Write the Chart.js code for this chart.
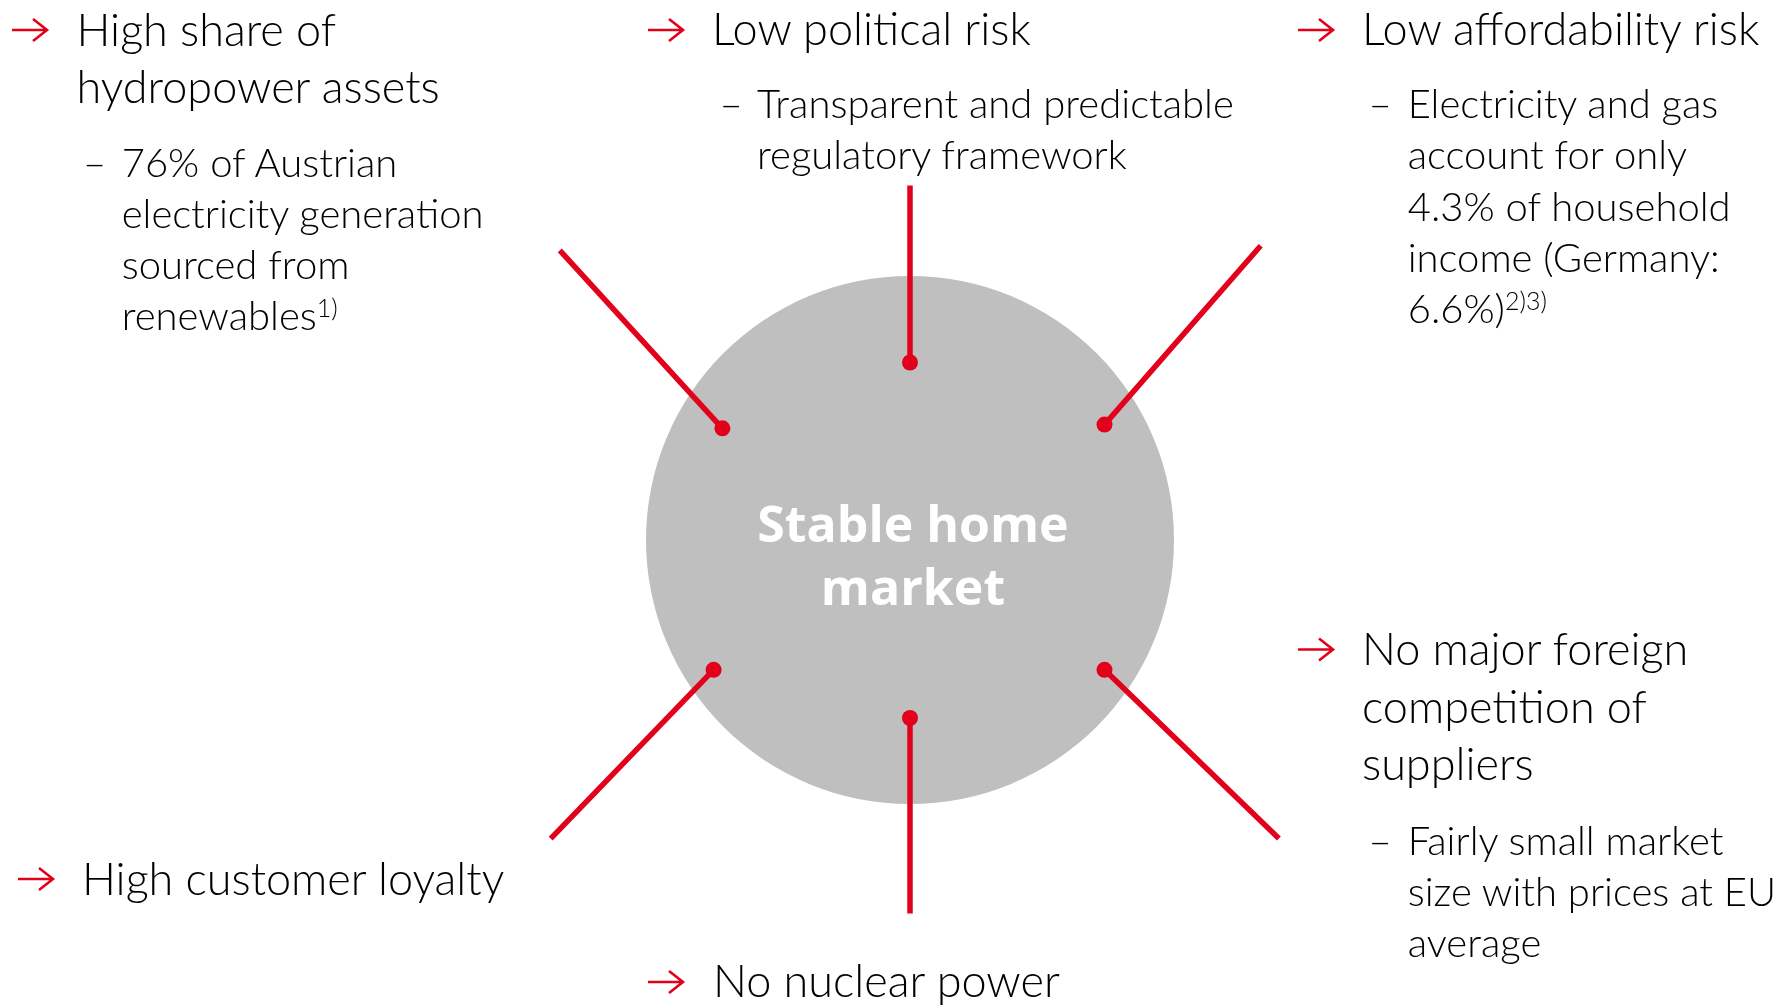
<!DOCTYPE html>
<html>
<head>
<meta charset="utf-8">
<script src="https://cdn.jsdelivr.net/npm/chart.js@4.4.1/dist/chart.umd.min.js"></script>
<style>
  html, body { margin:0; padding:0; background:#ffffff; overflow:hidden; }
  #wrap { position:relative; width:1784px; height:1006px; }
  #chart { position:absolute; left:0; top:0; }
  #labels { position:absolute; left:0; top:0; }
  .head { font-family: Lato, "Open Sans", sans-serif; font-weight:300; font-size:45px; fill:#000; }
  .det  { font-family: Lato, "Open Sans", sans-serif; font-weight:300; font-size:40px; fill:#000; }
  .sup  { font-size:25px; }
  .center { font-family: "Open Sans", Lato, sans-serif; font-weight:700; font-size:50px; fill:#ffffff; }
</style>
</head>
<body>
<div id="wrap">
  <canvas id="chart" width="1784" height="1006"></canvas>
  <svg id="labels" width="1784" height="1006" xmlns="http://www.w3.org/2000/svg"></svg>
</div>
<script>
// ---------- DATA ----------
const hubLabel = ["Stable home", "market"];
const hubX = [910];
const hubY = [540];
const hubRadius = [264];

const factorNames = ["hydropower", "political", "affordability", "competition", "nuclear", "loyalty"];
// spoke end points (diagram units = x 0..1784, y 0..1006 downward)
const spokeInnerX = [722.4, 910, 1104.5, 1104.5, 910, 713.6];
const spokeInnerY = [428.3, 362.5, 424.6, 669.8, 718, 669.8];
const spokeOuterX = [559.8, 910, 1260.7, 1278.9, 910, 550.7];
const spokeOuterY = [250.3, 185.5, 245.8, 838.6, 913.6, 838.6];

const headings = [
  ["High share of", "hydropower assets"],
  ["Low political risk"],
  ["Low affordability risk"],
  ["No major foreign", "competition of", "suppliers"],
  ["No nuclear power"],
  ["High customer loyalty"]
];
const details = [
  ["76% of Austrian", "electricity generation", "sourced from", "renewables"],
  ["Transparent and predictable", "regulatory framework"],
  ["Electricity and gas", "account for only", "4.3% of household", "income (Germany:", "6.6%)"],
  ["Fairly small market", "size with prices at EU", "average"],
  [],
  []
];
const footnotes = ["1)", "", "2)3)", "", "", ""];

// ---------- LAYOUT ----------
const arrowLeft = [12, 648, 1298, 1298, 648, 18];
const arrowCy   = [30, 30, 30, 649.5, 982, 879];
const headLeft  = [76.5, 712, 1362, 1362, 713, 82];
const headBase  = [45.7, 45, 45, 665, 997.3, 895];
const detDash   = [83, 719.5, 1368.5, 1368.5, 0, 0];
const detLeft   = [121.7, 757, 1407.7, 1407.7, 0, 0];
const detBase   = [176.7, 118.3, 118.3, 855, 0, 0];
const headGap = 57.6, detGap = 51.1;
const RED = "#e2001a", GREY = "#bfbfbf";

// ---------- CHART ----------
const spokeSets = factorNames.map((n, i) => ({
  type: "line",
  label: n,
  data: [{x: spokeOuterX[i], y: spokeOuterY[i]}, {x: spokeInnerX[i], y: spokeInnerY[i]}],
  borderColor: RED,
  borderWidth: 5.5,
  borderCapStyle: "butt",
  pointRadius: 0,
  showLine: true,
  fill: false,
  tension: 0,
  clip: false,
  order: 2
}));

new Chart(document.getElementById("chart"), {
  type: "scatter",
  data: {
    datasets: [
      {
        type: "bubble",
        label: "hub",
        data: hubX.map((x, i) => ({x: x, y: hubY[i], r: hubRadius[i]})),
        backgroundColor: GREY,
        borderWidth: 0,
        hoverRadius: 0,
        clip: false,
        order: 3
      },
      ...spokeSets,
      {
        type: "scatter",
        label: "dots",
        data: spokeInnerX.map((x, i) => ({x: x, y: spokeInnerY[i]})),
        backgroundColor: RED,
        borderWidth: 0,
        pointRadius: 8,
        clip: false,
        order: 1
      }
    ]
  },
  options: {
    responsive: false,
    animation: false,
    devicePixelRatio: 1,
    events: [],
    layout: {padding: 0, autoPadding: false},
    plugins: {legend: {display: false}, tooltip: {enabled: false}, title: {display: false}},
    scales: {
      x: {type: "linear", min: 0, max: 1784, display: false},
      y: {type: "linear", min: 0, max: 1006, reverse: true, display: false}
    }
  }
});

// ---------- TEXT (SVG, real text) ----------
const svg = document.getElementById("labels");
const NS = "http://www.w3.org/2000/svg";
function txt(x, y, s, cls, anchor) {
  const t = document.createElementNS(NS, "text");
  t.setAttribute("x", x); t.setAttribute("y", y);
  t.setAttribute("class", cls);
  if (anchor) t.setAttribute("text-anchor", anchor);
  t.textContent = s;
  svg.appendChild(t);
  return t;
}
function arrow(x, cy) {
  const p = document.createElementNS(NS, "path");
  p.setAttribute("d", `M${x} ${cy} H${x+35} M${x+21} ${cy-11} L${x+35} ${cy} L${x+21} ${cy+11}`);
  p.setAttribute("stroke", RED);
  p.setAttribute("stroke-width", "2.6");
  p.setAttribute("fill", "none");
  svg.appendChild(p);
}
headings.forEach((lines, i) => {
  arrow(arrowLeft[i], arrowCy[i]);
  lines.forEach((s, j) => txt(headLeft[i], headBase[i] + j * headGap, s, "head"));
  const d = details[i];
  if (d.length) {
    txt(detDash[i], detBase[i], "\u2013", "det");
    d.forEach((s, j) => {
      const t = txt(detLeft[i], detBase[i] + j * detGap, s, "det");
      if (j === d.length - 1 && footnotes[i]) {
        const sp = document.createElementNS(NS, "tspan");
        sp.setAttribute("class", "sup");
        sp.setAttribute("dy", "-13");
        sp.textContent = footnotes[i];
        t.appendChild(sp);
      }
    });
  }
});
hubLabel.forEach((s, j) => txt(913, 542 + j * 63, s, "center", "middle"));
</script>
</body>
</html>
